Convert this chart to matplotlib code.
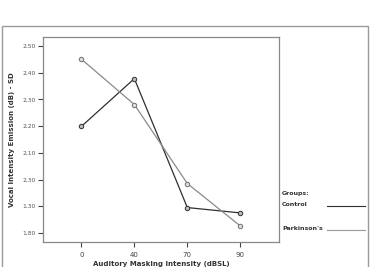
import matplotlib
matplotlib.use("Agg")
import matplotlib.pyplot as plt
from matplotlib.patches import Rectangle
from matplotlib.lines import Line2D

# ---- data ----
x_labels = ["0", "40", "70", "90"]
control = [2.199, 2.378, 1.895, 1.875]
parkinsons = [2.451, 2.281, 1.985, 1.826]
y_ticks = [1.80, 1.90, 2.00, 2.10, 2.20, 2.30, 2.40, 2.50]
y_tick_labels = ["1,80", "1,30", "2,30", "2,10", "2,20", "2,30", "2,40", "2,50"]

W, H = 370, 267
fig = plt.figure(figsize=(W / 100, H / 100), dpi=100)

# outer frame
fig.patches.append(Rectangle((2 / W, -0.05), 366 / W, 1.05 - 26 / H,
                             transform=fig.transFigure, fill=False,
                             edgecolor="#9a9a9a", linewidth=1.0))

ax = fig.add_axes([42.7 / W, 25 / H, (279 - 42.7) / W, (242 - 37) / H])
xs = list(range(len(x_labels)))

ax.plot(xs, control, color="#303030", linewidth=0.9, marker="o",
        markersize=3.2, markerfacecolor="#bbbbbb", markeredgecolor="#303030",
        markeredgewidth=0.7)
ax.plot(xs, parkinsons, color="#8a8a8a", linewidth=0.9, marker="o",
        markersize=3.2, markerfacecolor="#dddddd", markeredgecolor="#707070",
        markeredgewidth=0.7)

ax.set_xlim(-0.73, 3.73)
ax.set_ylim(1.766, 2.534)
ax.set_xticks(xs)
ax.set_xticklabels(x_labels, fontsize=5, color="#444444")
ax.set_yticks(y_ticks)
ax.set_yticklabels(y_tick_labels, fontsize=4.3, color="#555555")
ax.tick_params(axis="both", length=3.5, width=0.8, color="#444444", pad=1.5)
ax.tick_params(axis="x", pad=4)

for s in ax.spines.values():
    s.set_color("#888888")
    s.set_linewidth(0.9)

ax.set_ylabel("Vocal Intensity Emission (dB) - SD", fontsize=5,
              fontweight="bold", color="#333333", labelpad=5)
ax.set_xlabel("Auditory Masking Intensity (dBSL)", fontsize=5,
              fontweight="bold", color="#333333", labelpad=2)

# legend drawn by hand
fig.text(282 / W, 1 - 193 / H, "Groups:", fontsize=4.5, fontweight="bold",
         color="#333333", va="center")
fig.text(282 / W, 1 - 204 / H, "Control", fontsize=4.5, fontweight="bold",
         color="#333333", va="center")
fig.text(282 / W, 1 - 229 / H, "Parkinson's", fontsize=4.5, fontweight="bold",
         color="#333333", va="center")
fig.lines.append(Line2D([327 / W, 365 / W], [1 - 206 / H, 1 - 206 / H],
                        transform=fig.transFigure, color="#303030", linewidth=0.8))
fig.lines.append(Line2D([327 / W, 365 / W], [1 - 230 / H, 1 - 230 / H],
                        transform=fig.transFigure, color="#9a9a9a", linewidth=0.8))

fig.savefig("out.png", dpi=100)
